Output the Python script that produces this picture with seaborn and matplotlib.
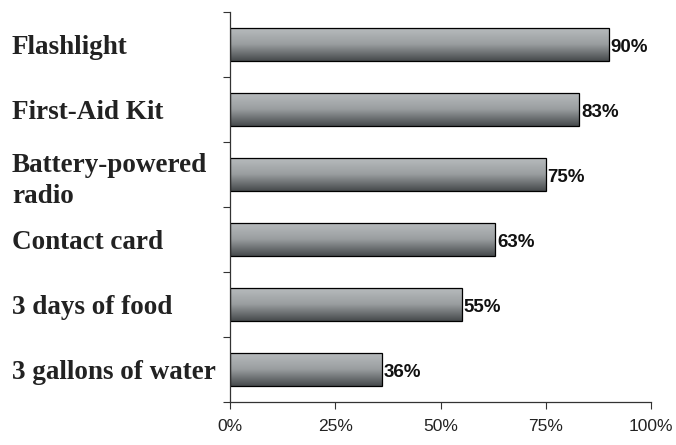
import numpy as np
import pandas as pd
import matplotlib
matplotlib.use("Agg")
import matplotlib.pyplot as plt
import seaborn as sns
from matplotlib.colors import LinearSegmentedColormap

categories = ["Flashlight", "First-Aid Kit", "Battery-powered\nradio",
              "Contact card", "3 days of food", "3 gallons of water"]
values = [90, 83, 75, 63, 55, 36]
xticks = [0, 25, 50, 75, 100]
xtick_labels = ["0%", "25%", "50%", "75%", "100%"]

df = pd.DataFrame({"item": categories, "pct": values})

sns.set_style("white")
plt.rcParams['font.family'] = ['Liberation Sans', 'DejaVu Sans']

fig = plt.figure(figsize=(6.76, 4.45), dpi=100)
ax = fig.add_axes([230/676, 1-402/445, (651-230)/676, (402-12)/445])

sns.barplot(data=df, x="pct", y="item", orient="h", ax=ax, width=0.52,
            color="#808080", edgecolor="black", linewidth=0.9)

cmap = LinearSegmentedColormap.from_list("g", ["#b9bdbf", "#9a9ea0", "#45494b"])
grad = np.linspace(0, 1, 256).reshape(-1, 1)
for p in ax.patches:
    x0, y0 = p.get_x(), p.get_y()
    w, h = p.get_width(), p.get_height()
    p.set_facecolor("none")
    im = ax.imshow(grad, cmap=cmap, aspect="auto",
                   extent=[x0, x0 + w, y0 + h, y0], origin="upper", zorder=1.5)
    im.set_clip_path(p)
    p.set_zorder(2)

ax.set_xlim(0, 100)
ax.set_ylim(5.5, -0.5)

for i, v in enumerate(values):
    ax.text(v + 0.4, i + 0.05, f"{v}%", va="center", ha="left",
            fontsize=13.5, fontweight="bold", color="#111111")

ax.set_xticks(xticks)
ax.set_xticklabels(xtick_labels, fontsize=12.5, color="#222222")
ax.tick_params(axis="x", direction="out", length=5, width=0.8, color="#333333", pad=7, bottom=True)

ax.set_yticks(range(len(categories)))
ax.set_yticklabels(categories, fontsize=19.5, fontweight="bold",
                   family=["Liberation Serif", "DejaVu Serif"], color="#222222",
                   linespacing=1.35)
ax.tick_params(axis="y", length=0, pad=218 * 0.72)
for lab in ax.get_yticklabels():
    lab.set_ha("left")
ax.set_yticks(np.arange(-0.5, 6.0, 1.0), minor=True)
ax.tick_params(axis="y", which="minor", direction="out", length=5, width=0.8,
               color="#333333", left=True)

ax.set_xlabel("")
ax.set_ylabel("")
for s in ["top", "right"]:
    ax.spines[s].set_visible(False)
for s in ["left", "bottom"]:
    ax.spines[s].set_color("#333333")
    ax.spines[s].set_linewidth(0.9)

fig.savefig("out.png", dpi=100)
